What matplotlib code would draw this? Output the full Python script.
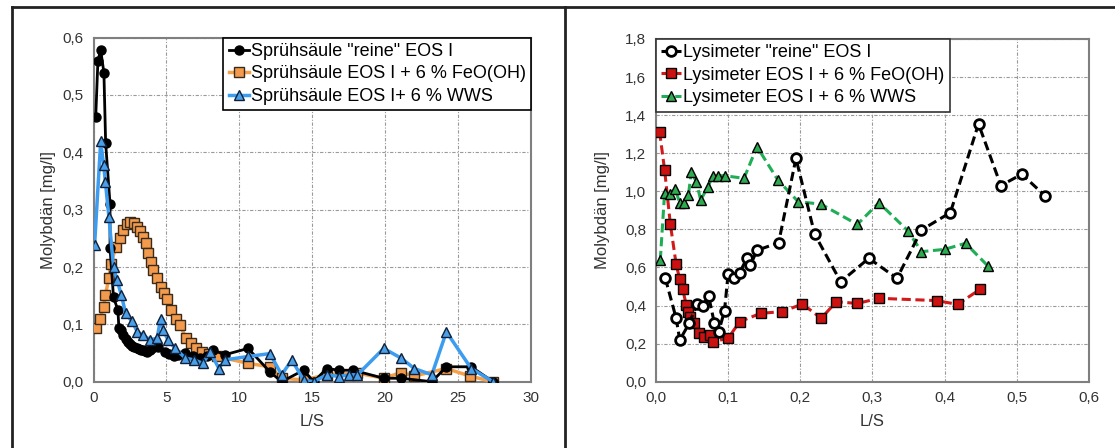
import matplotlib
matplotlib.use("Agg")
import matplotlib.pyplot as plt
from matplotlib.lines import Line2D
from matplotlib.ticker import FuncFormatter, MultipleLocator

plt.rcParams['font.family'] = ['Liberation Sans', 'DejaVu Sans']

# --- left panel: Sprühsäule ---
ls_rein = [0.15, 0.3, 0.49, 0.71, 0.83, 1.13, 1.13, 1.37, 1.67, 1.74, 1.9, 2.05, 2.2, 2.35, 2.5,
           2.65, 2.8, 2.95, 3.1, 3.25, 3.4, 3.55, 3.7, 3.85, 4.0, 4.2, 4.4, 4.9, 5.2, 5.5, 5.8,
           6.3, 6.8, 7.3, 7.8, 8.2, 9.0, 10.6, 12.1, 12.9, 14.4, 15.1, 16.0, 16.85, 17.8,
           19.9, 21.1, 23.2, 24.2, 25.9, 27.4]
mo_rein = [0.462, 0.56, 0.578, 0.539, 0.416, 0.31, 0.233, 0.147, 0.125, 0.093, 0.09, 0.082, 0.075,
           0.07, 0.066, 0.063, 0.06, 0.058, 0.057, 0.056, 0.055, 0.053, 0.052, 0.055, 0.058,
           0.062, 0.06, 0.052, 0.048, 0.045, 0.046, 0.05, 0.045, 0.042, 0.045, 0.055, 0.047,
           0.058, 0.017, 0.0, 0.02, 0.0, 0.023, 0.02, 0.02, 0.006, 0.006, 0.0, 0.026, 0.026, 0.0]

ls_feo = [0.2, 0.44, 0.69, 0.81, 1.05, 1.18, 1.54, 1.79, 2.03, 2.28, 2.52, 2.77, 3.01, 3.2, 3.38,
          3.58, 3.75, 3.94, 4.11, 4.36, 4.6, 4.8, 5.05, 5.34, 5.63, 5.95, 6.32, 6.69, 7.05,
          7.42, 7.9, 8.5, 10.6, 12.1, 12.9, 14.4, 16.0, 18.1, 19.9, 21.1, 22.0, 24.2, 25.8, 27.4]
mo_feo = [0.093, 0.11, 0.131, 0.151, 0.18, 0.206, 0.235, 0.25, 0.265, 0.275, 0.279, 0.277, 0.27,
          0.262, 0.253, 0.241, 0.224, 0.209, 0.195, 0.18, 0.166, 0.154, 0.145, 0.125, 0.11,
          0.099, 0.076, 0.067, 0.058, 0.052, 0.049, 0.044, 0.032, 0.026, 0.006, 0.003, 0.012,
          0.015, 0.006, 0.016, 0.01, 0.023, 0.01, 0.0]

ls_wws = [0.07, 0.49, 0.69, 0.81, 1.05, 1.37, 1.6, 1.91, 2.2, 2.65, 3.0, 3.4, 3.9, 4.36, 4.6,
          4.78, 5.1, 5.6, 6.3, 6.9, 7.5, 8.0, 8.6, 9.0, 10.6, 12.1, 12.9, 13.6, 14.4, 15.1,
          16.0, 16.85, 17.5, 18.1, 19.9, 21.1, 22.0, 23.2, 24.2, 25.9, 27.4]
mo_wws = [0.238, 0.419, 0.378, 0.349, 0.288, 0.2, 0.178, 0.151, 0.119, 0.105, 0.087, 0.081,
          0.073, 0.076, 0.11, 0.09, 0.073, 0.058, 0.041, 0.038, 0.032, 0.052, 0.023, 0.038,
          0.044, 0.049, 0.012, 0.038, 0.003, 0.0, 0.012, 0.009, 0.012, 0.012, 0.058, 0.041,
          0.023, 0.012, 0.087, 0.023, 0.0]

# --- right panel: Lysimeter ---
ly_rein_x = [0.013, 0.028, 0.033, 0.046, 0.057, 0.065, 0.073, 0.081, 0.087, 0.095, 0.1, 0.108,
             0.116, 0.126, 0.131, 0.14, 0.17, 0.194, 0.22, 0.256, 0.295, 0.334, 0.368, 0.408,
             0.447, 0.478, 0.507, 0.539]
ly_rein_y = [0.543, 0.333, 0.219, 0.306, 0.408, 0.4, 0.45, 0.306, 0.263, 0.373, 0.566, 0.543,
             0.573, 0.648, 0.613, 0.69, 0.73, 1.173, 0.774, 0.525, 0.648, 0.543, 0.797, 0.888,
             1.354, 1.03, 1.09, 0.977]

ly_feo_x = [0.005, 0.012, 0.02, 0.028, 0.033, 0.037, 0.042, 0.044, 0.047, 0.053, 0.06, 0.067,
            0.075, 0.079, 0.1, 0.116, 0.145, 0.175, 0.203, 0.229, 0.25, 0.279, 0.309, 0.389,
            0.418, 0.449]
ly_feo_y = [1.313, 1.112, 0.826, 0.616, 0.538, 0.487, 0.403, 0.368, 0.341, 0.306, 0.254, 0.236,
            0.245, 0.21, 0.228, 0.315, 0.359, 0.368, 0.408, 0.333, 0.42, 0.411, 0.438, 0.426,
            0.406, 0.485]

ly_wws_x = [0.006, 0.012, 0.019, 0.027, 0.033, 0.039, 0.045, 0.049, 0.056, 0.062, 0.072, 0.079,
            0.086, 0.095, 0.122, 0.14, 0.169, 0.197, 0.229, 0.279, 0.309, 0.349, 0.368, 0.4,
            0.429, 0.46]
ly_wws_y = [0.639, 0.993, 0.986, 1.01, 0.937, 0.94, 0.98, 1.103, 1.05, 0.954, 1.024, 1.082,
            1.082, 1.082, 1.068, 1.234, 1.059, 0.946, 0.932, 0.826, 0.94, 0.793, 0.683, 0.695,
            0.727, 0.608]


def comma(decimals):
    return FuncFormatter(lambda v, p: f"{v:.{decimals}f}".replace(".", ","))


def style_axes(ax, ypad):
    ax.grid(True, color="#9a9a9a", linestyle=(0, (3, 1.5, 1, 1.5)), linewidth=0.8)
    ax.set_axisbelow(True)
    for s in ax.spines.values():
        s.set_color("#7f7f7f")
        s.set_linewidth(1.5)
    ax.tick_params(length=0, labelsize=11, colors="#333333", pad=7)
    ax.set_xlabel("L/S", fontsize=12, color="#333333", labelpad=6)
    ax.set_ylabel("Molybdän [mg/l]", fontsize=12, color="#333333", labelpad=ypad)


fig = plt.figure(figsize=(11.15, 4.48), dpi=100)

ax1 = fig.add_axes([0.0839, 0.148, 0.3923, 0.768])
ax1.plot(ls_rein, mo_rein, color="black", lw=2, marker="o", ms=6.5, mfc="black", mec="black",
         label='Sprühsäule "reine" EOS I', zorder=4)
ax1.plot(ls_feo, mo_feo, color="#f7a04a", lw=2.5, marker="s", ms=7, mfc="#f39a4c", mec="#3a2a1a",
         mew=1, label="Sprühsäule EOS I + 6 % FeO(OH)", zorder=3)
ax1.plot(ls_wws, mo_wws, color="#3c9cf0", lw=2.5, marker="^", ms=7, mfc="#4aa0e8", mec="#10203a",
         mew=1, label="Sprühsäule EOS I+ 6 % WWS", zorder=5)
ax1.set_xlim(0, 30)
ax1.set_ylim(0, 0.6)
ax1.xaxis.set_major_locator(MultipleLocator(5))
ax1.yaxis.set_major_locator(MultipleLocator(0.1))
ax1.yaxis.set_major_formatter(comma(1))
style_axes(ax1, 5)
leg1 = ax1.legend(loc="upper right", bbox_to_anchor=(1, 1), borderaxespad=0, fontsize=13,
                  handlelength=1.1, handletextpad=0.1, labelspacing=0.3, borderpad=0.3,
                  fancybox=False, framealpha=1, edgecolor="black")
leg1.get_frame().set_linewidth(1.2)

ax2 = fig.add_axes([0.5883, 0.148, 0.3883, 0.765])
ax2.plot(ly_rein_x, ly_rein_y, color="black", lw=2.2, ls=(0, (3, 1.5)), marker="o", ms=7,
         mfc="white", mec="black", mew=2, label='Lysimeter "reine" EOS I', zorder=4)
ax2.plot(ly_feo_x, ly_feo_y, color="#d21a1a", lw=2.2, ls=(0, (3, 1.5)), marker="s", ms=6.5,
         mfc="#cc1111", mec="black", mew=1, label="Lysimeter EOS I + 6 % FeO(OH)", zorder=3)
ax2.plot(ly_wws_x, ly_wws_y, color="#1fae55", lw=2.2, ls=(0, (3, 1.5)), marker="^", ms=7,
         mfc="#2eaa50", mec="black", mew=1, label="Lysimeter EOS I + 6 % WWS", zorder=3)
ax2.set_xlim(0, 0.6)
ax2.set_ylim(0, 1.8)
ax2.xaxis.set_major_locator(MultipleLocator(0.1))
ax2.yaxis.set_major_locator(MultipleLocator(0.2))
ax2.xaxis.set_major_formatter(comma(1))
ax2.yaxis.set_major_formatter(comma(1))
style_axes(ax2, 11)
leg2 = ax2.legend(loc="upper left", bbox_to_anchor=(0, 1), borderaxespad=0, fontsize=13,
                  handlelength=1.1, handletextpad=0.1, labelspacing=0.3, borderpad=0.3,
                  fancybox=False, framealpha=1, edgecolor="#333333")
leg2.get_frame().set_linewidth(1.2)

# outer frame of the two panels
ytop = 1 - 7 / 448
fig.add_artist(Line2D([11.5 / 1115, 1], [ytop, ytop], color="#222222", lw=2))
fig.add_artist(Line2D([11.5 / 1115, 11.5 / 1115], [0, ytop], color="#222222", lw=2))
fig.add_artist(Line2D([565 / 1115, 565 / 1115], [0, ytop], color="#222222", lw=2))

fig.savefig("out.png", dpi=100)
